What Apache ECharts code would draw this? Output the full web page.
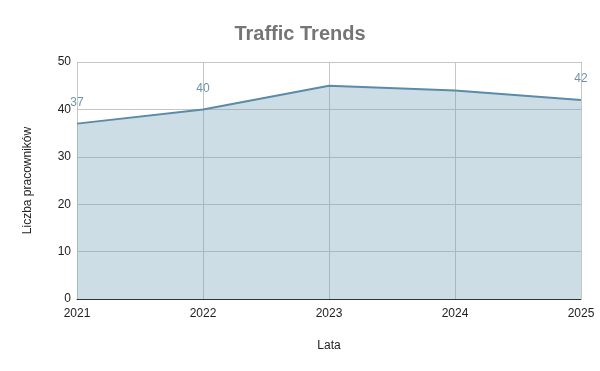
<!DOCTYPE html>
<html><head><meta charset="utf-8">
<script src="https://cdn.jsdelivr.net/npm/echarts@6/dist/echarts.min.js"></script>
<style>html,body{margin:0;padding:0;background:#fff}#c{width:600px;height:371px}</style>
</head><body><div id="c"></div>
<script>
const categories = ['2021','2022','2023','2024','2025'];
const values = [37, 40, 45, 44, 42];
const labelShown = [true, true, false, false, true];

const chart = echarts.init(document.getElementById('c'), null, {renderer:'canvas'});
chart.setOption({
  animation:false,
  backgroundColor:'#fff',
  title:{text:'Traffic Trends', left:'center', top:19,
    textStyle:{fontFamily:'Liberation Sans, Arial', fontSize:20, fontWeight:'bold', color:'#757575'}},
  grid:{left:77, right:19, top:62, bottom:72},
  xAxis:{type:'category', data:categories, boundaryGap:false,
    name:'Lata', nameLocation:'middle', nameGap:41,
    nameTextStyle:{fontFamily:'Liberation Sans, Arial', fontSize:12, color:'#222'},
    axisLine:{show:true, onZero:false, lineStyle:{color:'#333', width:1}},
    axisTick:{show:false},
    axisLabel:{fontFamily:'Liberation Sans, Arial', fontSize:12, color:'#222', margin:9},
    splitLine:{show:true, lineStyle:{color:'#c6c6c6', width:1}}},
  yAxis:{type:'value', min:0, max:50, interval:10,
    name:'Liczba pracowników', nameLocation:'middle', nameGap:43, nameRotate:90,
    nameTextStyle:{fontFamily:'Liberation Sans, Arial', fontSize:12, color:'#222'},
    axisLine:{show:false}, axisTick:{show:false},
    axisLabel:{fontFamily:'Liberation Sans, Arial', fontSize:12, color:'#222', margin:6},
    splitLine:{show:true, lineStyle:{color:'#c6c6c6', width:1}}},
  series:[{type:'line', data:values,
    symbol:'circle', symbolSize:2, showSymbol:true,
    itemStyle:{color:'rgba(0,0,0,0)', borderWidth:0},
    lineStyle:{color:'#5b8ba8', width:2},
    areaStyle:{color:'rgb(112,158,184)', opacity:0.35},
    label:{show:true, position:'top', distance:14,
      formatter:(p)=>labelShown[p.dataIndex] ? String(p.value) : '',
      fontFamily:'Liberation Sans, Arial', fontSize:12, color:'#6e95ad'}}]
});
</script></body></html>
